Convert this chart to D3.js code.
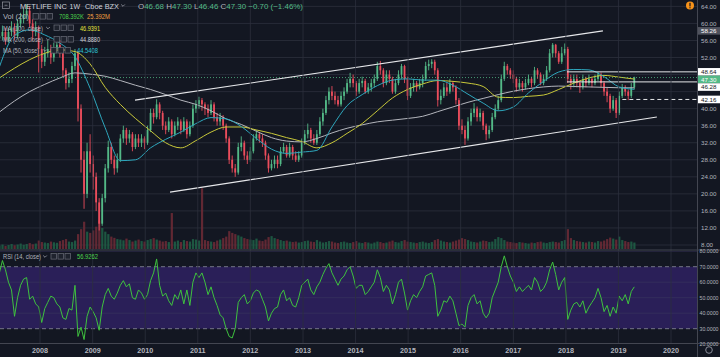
<!DOCTYPE html>
<html><head><meta charset="utf-8">
<script src="https://cdn.jsdelivr.net/npm/d3@7"></script>
<style>html,body{margin:0;padding:0;background:#131722;overflow:hidden}svg{display:block}</style>
</head><body><svg id="c" width="720" height="357"></svg>
<script>
// ---------- DATA (3-week candles) ----------
const firstOpen = 56.5;
const closes = [
57,58,56,58,59,57,60,61,62,63,
60,58,59,54,51,53,54,52,54,55,
53,49,46,47,50,53,40,28,20,30,
27,24,18,13,19,26,31,28,26,28,
33,35,33,34,31,33,32,33,32,35,
39,38,41,39,36,35,37,34,36,37,
35,37,34,36,40,41,42,41,40,39,
41,38,37,38,36,33,28,26,25,31,
32,29,28,30,33,34,33,32,29,26,
27,28,27,30,31,29,31,29,28,29,
32,34,35,33,32,34,37,39,42,44,
43,42,41,43,44,46,47,46,44,46,
46.5,44,45,46,47,50,49,46,48,47,
44,46,48,50,47,43,45,46,45,46,
47,50,50.5,51,49,42,43,45,44,46,
45,42,36,35,33,37,39,40,38,39,
36,34,35,38,40,42,47,50,49,48,
47,45,46,45,46,47,46,49,48,46,
47,49,53,55,53,51,53,54,47,46,
47,46,45,47,46,47,46,47,48,46,
44,43,40,42,39,43,45,44,43,45,
47.3];
const highs = [
58.5,59.5,59,59,60.5,60,61,62.5,63.5,64.5,
64,61,60.5,59.5,55,54.5,56,55,55.5,56.5,
56,54,49.5,48.5,51,54,53.5,41,30,32,
34,29,25,19,20,27,32.5,32,29,29.5,
34,36,35.5,35,34.5,34,34,34,33.5,36,
40,40,42.2,41.5,39.5,37,38,37.5,37,38,
37.5,38,37.5,37,41,42,42.8,42.5,41.5,41,
42,41.5,39,39,38.5,36.5,33.5,29,27,32,
33.5,32.5,30,31,34,35,34.5,34,32.5,29.5,
28,29,29,31,32,31.5,32,31.5,30,30,
33,35,36.5,35.5,34,35,38,40,43,45,
45.3,44,43,44,45,47,48.4,48,46.5,47,
47.5,47,46,47,48,51,51.2,49.5,49,49,
47.5,47,49,50.5,50.3,47.5,46,47,46.5,47,
48,51,51.5,51.6,51.5,49.5,44.5,46,46,47,
46.5,45.5,42.5,37.5,36,38,40,41.3,40.5,40,
39.5,36.5,36,39,41,43,48,51,50.5,49.5,
49,47.5,47,46.5,47,48,47.5,49.8,49.5,48.5,
48,50,54,55.4,55.2,53.5,54.5,55.3,54.5,48,
48,48,46.5,48,47.5,48,47.5,48,48.6,48.5,
46.5,45,43.5,43,42.5,44,45.8,45.5,44.5,46,
47.5];
const lows = [
55.5,56,55,55.5,57,56,56.5,59,60,61,
59,56,57,48.5,49.5,50,52,50.5,51,53,
52,47.5,44.5,45,46,49,37,25,16.5,19,
25,21,16,11.4,12.5,18,25,27,24.5,25,
27.5,32,31.5,32,30,30.5,31,31,30.5,31.5,
34.5,36.5,37.5,37.5,35,34,34.5,33,33.5,35,
34,34.5,33,33.5,35.5,39,40,39.5,38.5,38,
38.5,37,36,36,35,32,27,25,24,24.5,
30,28,27,27.5,29.5,32.5,32,31,28,25,
25.5,26,26,26.5,29.5,28.5,28.5,28,27.5,27.5,
28.5,31.5,33,32,31.5,31.5,33.5,36,38.5,41,
42,41,40.5,40.5,42,43.5,45,45,43,43.5,
45,43.5,43.5,44,45,46.5,48,45,45.5,46,
43.5,43.5,45.5,47,46,42,42.5,44,44,44.5,
45,46.5,49,49.5,48,40.5,41,42.5,43,43.5,
44,41,35,34,31.5,32.5,36,38,37,37,
35,32.6,33,34.5,37.5,39.5,41.5,46.5,48,47,
46,44,44.5,44,44.5,45.5,45,45.5,47,45.5,
45.5,46.5,48.5,52,52,50.5,50.5,52.5,46,44.5,
45,45,43.7,44.5,45,45.5,45,45.5,46.5,45,
43,41.5,39,39.5,37.8,38.5,42.5,43,42,42.5,
44.5];
const volumes = [
14,18,12,16,20,15,18,22,17,20,
24,19,22,34,28,26,24,30,27,25,
32,36,40,30,28,34,60,80,110,70,
65,75,90,115,85,70,60,50,45,40,
38,35,42,36,30,34,38,32,30,36,
40,44,38,34,30,32,28,145,30,34,
28,36,32,30,40,38,34,245,36,32,
30,28,34,38,44,50,72,65,60,55,
50,44,40,38,36,42,34,32,38,48,
52,44,40,36,32,34,30,28,30,26,
28,32,34,30,28,36,30,26,28,32,
30,26,24,28,30,26,24,28,32,26,
24,28,26,22,26,30,28,24,26,30,
34,28,26,32,36,30,28,26,24,28,
30,26,24,28,36,40,34,30,28,26,
30,34,38,44,40,36,30,28,26,30,
34,32,28,30,40,48,44,36,30,28,
26,24,28,26,24,22,26,24,28,30,
26,24,28,30,28,26,32,36,80,44,
36,32,30,28,26,30,28,26,32,30,
34,40,46,42,38,50,36,32,28,30,
26];
const rsiValues = [
66,74,68,60,55,38,50,58,62,63,
49,51,46,44,34,43,47,51,50,46,
44,37,36,43,42,58,25,31,23,38,
44,41,37,29,44,52,56,51,49,53,
58,61,57,59,50,49,55,53,49,52,
61,66,75,58,51,53,48,45,52,49,
55,46,55,45,60,66,63,66,60,52,
57,50,45,39,37,30,25,24,30,47,
50,52,46,48,53,55,54,49,44,35,
40,43,44,52,55,48,50,45,44,50,
58,60,62,55,52,57,60,65,69,72,
66,62,58,62,64,68,70,64,56,58,
58,52,54,57,60,68,63,54,58,55,
46,52,60,62,53,42,48,52,50,54,
57,64,65,66,58,38,42,48,47,51,
48,40,32,33,31,45,50,52,46,48,
40,37,40,50,55,60,70,77,70,64,
60,54,57,54,56,58,55,63,60,54,
56,60,68,73,65,55,60,63,36,42,
46,47,44,48,40,44,47,50,56,50,
41,45,38,44,40,51,48,52,46,54,
57];
// moving averages sampled every 5th candle
const maStep = 5;
const ma50 = [49.8,57.2,58.5,57.3,55.4,52.2,44.8,35.5,27.8,28,30.8,32.8,34.5,36.5,37.9,37.6,35.8,33,30.5,29.5,29.8,30.2,35.7,40.7,43.3,45.4,46.7,47,46.7,46.7,45.5,43.4,41.3,39.5,40.4,43.7,46.4,48.6,49.2,49.1,47.5,45.1,44.54];
const ma100 = [47.2,49.5,51.5,53,53.8,53.4,50.5,45,41,37.7,34.8,32,30.8,32.5,34.5,35.7,35.7,35,34.2,33.2,32.3,30.8,32,34.2,36.5,39.5,42.5,44.5,45.8,46.6,46.4,46,45.2,42.7,42.6,42.9,43.2,44.5,46,47.2,47.8,47.4,46.94];
const ma200 = [39.2,41.8,44,45.7,47.2,48.4,48.1,47.6,46.6,45.5,44.5,43.3,42,41,39.5,37.6,36.3,34.7,33.2,32.4,32.2,33,34.3,35.4,36.2,36.9,37.3,37.7,38.2,39.3,40.4,41.5,42.4,43.3,44.1,44.7,45.1,45.3,45.2,45.1,45,44.9,44.89];
// drawings
const channelLines = [
  {from:["2009-10-22",42.0], to:["2018-09-15",58.26]},
  {from:["2010-06-22",20.4], to:["2019-09-25",38.05]}
];
const levelLines = [
  {from:"2018-01-08", price:48.64, dash:null},
  {from:"2018-01-08", price:46.28, dash:null},
  {from:"2019-01-28", price:42.16, dash:"4,3"}
];
const yearTicks = [2008,2009,2010,2011,2012,2013,2014,2015,2016,2017,2018,2019,2020];
const priceGrid = [8,12,16,20,24,28,32,36,40,44,48,52,56,60,64];
const priceTickLabels = [8,12,16,20,24,28,32,36,40,52,56,60,64];
const rsiTicks = [20,30,40,50,60,70,80];
const lastPrice = 47.30;
const priceTags = [
  {v:58.26, bg:"#50535e", fg:"#ffffff"},
  {v:48.64, bg:"#ffffff", fg:"#131722"},
  {v:47.30, bg:"#53b987", fg:"#ffffff"},
  {v:46.28, bg:"#ffffff", fg:"#131722"},
  {v:42.16, bg:"#ffffff", fg:"#131722"}
];

// ---------- CHART ----------
const svg = d3.select("#c");
const FONT = "Liberation Sans, Arial, sans-serif";
const AX = 697, MAIN_B = 249, RSI_T = 251, RSI_B = 343;
const up = "#53b987", dn = "#eb4d5c";
const n = closes.length;
const lastDate = new Date(2019,3,21);
const dates = d3.range(n).map(i => d3.timeWeek.offset(lastDate, -3*(n-1-i)));
const opens = closes.map((c,i) => i===0 ? firstOpen : closes[i-1]);
const parse = d3.timeParse("%Y-%m-%d");

const x = d3.scaleTime().domain([new Date(2008,0,1), new Date(2020,0,1)]).range([40,671]);
const y = d3.scaleLinear().domain([8,64]).range([245,6.4]);
const yv = d3.scaleLinear().domain([0,250]).range([MAIN_B,187]);
const yr = d3.scaleLinear().domain([20,80]).range([344.2,251.2]);

svg.append("rect").attr("width",720).attr("height",357).attr("fill","#131722");
const defs = svg.append("defs");
defs.append("clipPath").attr("id","cm").append("rect").attr("x",0).attr("y",0).attr("width",AX).attr("height",MAIN_B);
defs.append("clipPath").attr("id","cr").append("rect").attr("x",0).attr("y",RSI_T).attr("width",AX).attr("height",RSI_B-RSI_T);

// RSI band
const rsiG = svg.append("g").attr("clip-path","url(#cr)");
rsiG.append("rect").attr("x",0).attr("width",AX).attr("y",yr(70)).attr("height",yr(30)-yr(70)).attr("fill","#2a1f58");
rsiG.selectAll("line.rg").data(rsiTicks.filter(v=>v!==70&&v!==30)).join("line")
  .attr("x1",0).attr("x2",AX).attr("y1",d=>yr(d)).attr("y2",d=>yr(d)).attr("stroke","#3a3560").attr("stroke-width",0.6);
rsiG.selectAll("line.rd").data([70,30]).join("line")
  .attr("x1",0).attr("x2",AX).attr("y1",d=>yr(d)).attr("y2",d=>yr(d)).attr("stroke","#8a8d99").attr("stroke-dasharray","4,3").attr("stroke-width",0.8);

// grids
const mainG = svg.append("g").attr("clip-path","url(#cm)");
mainG.selectAll("line.hg").data(priceGrid).join("line")
  .attr("x1",0).attr("x2",AX).attr("y1",d=>y(d)).attr("y2",d=>y(d)).attr("stroke","#2c303c").attr("stroke-width",0.8);
svg.append("g").selectAll("line").data(yearTicks).join("line")
  .attr("x1",d=>x(new Date(d,0,1))).attr("x2",d=>x(new Date(d,0,1))).attr("y1",0).attr("y2",RSI_B)
  .attr("stroke","#2c303c").attr("stroke-width",0.8);

// volume
mainG.append("g").selectAll("rect").data(volumes).join("rect")
  .attr("x",(d,i)=>x(dates[i])-1).attr("width",2.2)
  .attr("y",d=>yv(d)).attr("height",d=>MAIN_B-yv(d))
  .attr("fill",(d,i)=> closes[i]>=opens[i] ? "#1f5d45" : "#6a2a35").attr("opacity",0.9);

// candles
const cg = mainG.append("g");
cg.selectAll("line").data(closes).join("line")
  .attr("x1",(d,i)=>x(dates[i])).attr("x2",(d,i)=>x(dates[i]))
  .attr("y1",(d,i)=>y(highs[i])).attr("y2",(d,i)=>y(lows[i]))
  .attr("stroke",(d,i)=> d>=opens[i]?up:dn).attr("stroke-width",0.9);
cg.selectAll("rect").data(closes).join("rect")
  .attr("x",(d,i)=>x(dates[i])-0.9).attr("width",1.8)
  .attr("y",(d,i)=>y(Math.max(d,opens[i])))
  .attr("height",(d,i)=>Math.max(0.8, Math.abs(y(d)-y(opens[i]))))
  .attr("fill",(d,i)=> d>=opens[i]?up:dn);

// moving averages
const maLine = d3.line().x((d,i)=>x(dates[Math.min(i*maStep,n-1)])).y(d=>y(d)).curve(d3.curveMonotoneX);
[[ma200,"#b4b6bd"],[ma100,"#c9c93a"],[ma50,"#2ea7bd"]].forEach(([arr,col])=>{
  mainG.append("path").attr("d",maLine(arr)).attr("fill","none").attr("stroke",col).attr("stroke-width",1);
});

// current price dotted line
mainG.append("line").attr("x1",0).attr("x2",AX).attr("y1",y(lastPrice)).attr("y2",y(lastPrice))
  .attr("stroke",up).attr("stroke-dasharray","1,2").attr("stroke-width",0.8);

// drawings
channelLines.forEach(l=>{
  mainG.append("line").attr("x1",x(parse(l.from[0]))).attr("y1",y(l.from[1]))
    .attr("x2",x(parse(l.to[0]))).attr("y2",y(l.to[1])).attr("stroke","#e6e7ea").attr("stroke-width",1.1);
});
levelLines.forEach(l=>{
  mainG.append("line").attr("x1",x(parse(l.from))).attr("x2",AX).attr("y1",y(l.price)).attr("y2",y(l.price))
    .attr("stroke","#e6e7ea").attr("stroke-width",1).attr("stroke-dasharray",l.dash);
});

// RSI line
const rsiLine = d3.line().x((d,i)=>x(dates[i])).y(d=>yr(d));
rsiG.append("path").attr("d",rsiLine(rsiValues)).attr("fill","none").attr("stroke","#3ec23e").attr("stroke-width",1);

// separators & axes
svg.append("line").attr("x1",0).attr("x2",720).attr("y1",250).attr("y2",250).attr("stroke","#434651").attr("stroke-width",1.2);
svg.append("line").attr("x1",0).attr("x2",720).attr("y1",RSI_B+0.5).attr("y2",RSI_B+0.5).attr("stroke","#434651");
svg.append("line").attr("x1",AX+0.5).attr("x2",AX+0.5).attr("y1",0).attr("y2",357).attr("stroke","#434651");

const axT = svg.append("g").attr("font-family",FONT).attr("fill","#b2b5be");
axT.selectAll("text.p").data(priceTickLabels).join("text").attr("font-size",6.2)
  .attr("x",701).attr("y",d=>y(d)+2.2).text(d=>d.toFixed(2));
axT.selectAll("text.r").data(rsiTicks).join("text").attr("font-size",5.6)
  .attr("x",699.5).attr("y",d=>yr(d)+2).attr("textLength",19).attr("lengthAdjust","spacingAndGlyphs").text(d=>d.toFixed(4));
svg.append("g").attr("font-family",FONT).attr("font-size",7.2).attr("font-weight","bold").attr("fill","#b2b5be")
  .selectAll("text").data(yearTicks).join("text")
  .attr("x",d=>x(new Date(d,0,1))).attr("y",353).attr("text-anchor","middle").text(d=>d);

// price tags with simple collision avoidance
let prevY = -99;
const tagG = svg.append("g").attr("font-family",FONT).attr("font-size",6.2);
priceTags.slice().sort((a,b)=>b.v-a.v).forEach(t=>{
  let ty = Math.max(y(t.v), prevY + 7.6); prevY = ty;
  tagG.append("rect").attr("x",AX+1).attr("y",ty-3.8).attr("width",22).attr("height",7.6).attr("fill",t.bg);
  tagG.append("text").attr("x",701).attr("y",ty+2.2).attr("fill",t.fg).text(t.v.toFixed(2));
});

// legend
const lg = svg.append("g").attr("font-family",FONT);
function boxes(x0, yy){
  for(let k=0;k<3;k++){
    lg.append("rect").attr("x",x0+k*7).attr("y",yy-5.5).attr("width",5.6).attr("height",5.6)
      .attr("fill","#1e222d").attr("stroke","#6a6d78").attr("stroke-width",0.7);
  }
}
function chevron(cx, cy){
  lg.append("path").attr("d",`M${cx-1.8},${cy-1}L${cx},${cy+0.8}L${cx+1.8},${cy-1}`)
    .attr("fill","none").attr("stroke","#b2b5be").attr("stroke-width",0.7);
}
function fitText(s, xx, yy, len, size, col){
  return lg.append("text").attr("x",xx).attr("y",yy).attr("font-size",size).attr("fill",col)
    .attr("textLength",len).attr("lengthAdjust","spacingAndGlyphs").text(s);
}
lg.append("rect").attr("x",2.5).attr("y",2).attr("width",7).attr("height",6.5).attr("fill","none").attr("stroke","#9598a1").attr("stroke-width",0.7);
lg.append("line").attr("x1",4.5).attr("x2",7.5).attr("y1",5.25).attr("y2",5.25).attr("stroke","#9598a1").attr("stroke-width",0.7);
fitText("METLIFE INC", 20, 8.5, 47, 7.8, "#d1d4dc");
fitText("1W", 69.5, 8.5, 10.5, 7.8, "#d1d4dc");
fitText("Cboe BZX", 85, 8.5, 34, 7.8, "#d1d4dc");
chevron(123, 5.5);
const o = lg.append("text").attr("x",138).attr("y",8.5).attr("font-size",7.8)
  .attr("textLength",165).attr("lengthAdjust","spacingAndGlyphs");
[["O","#b2b5be"],["46.68 ",up],["H","#b2b5be"],["47.30 ",up],["L","#b2b5be"],["46.46 ",up],["C","#b2b5be"],["47.30 ",up],["−0.70 (−1.46%)",up]]
  .forEach(([s,c])=>o.append("tspan").attr("fill",c).text(s));

const rows = [
  {label:"Vol (20)", len:26, arrow:null, bx:33, y:19, vals:[["708.392K","#4cd44c",59,25],["25.392M","#f0a040",87,23]]},
  {label:"MA (100, close)", len:40, arrow:48, bx:54, y:30.5, vals:[["46.9391","#e6e63c",80,20]]},
  {label:"MA (200, close)", len:40, arrow:48, bx:54, y:42, vals:[["44.8880","#d1d4dc",80,20]]},
  {label:"MA (50, close)", len:36, arrow:45, bx:51, y:53, vals:[["44.5408","#2ec4d6",77,21]]}
];
rows.forEach(r=>{
  fitText(r.label, 3, r.y, r.len, 7, "#b2b5be");
  if(r.arrow) chevron(r.arrow, r.y-2.5);
  boxes(r.bx, r.y);
  r.vals.forEach(([s,c,xx,len])=>fitText(s, xx, r.y, len, 7, c));
});
fitText("RSI (14, close)", 3, 259, 38, 7, "#b2b5be");
chevron(45, 256.5);
boxes(51, 259);
fitText("56.9262", 77, 259, 21, 7, "#4cd44c");

// icons
svg.append("circle").attr("cx",690).attr("cy",5.5).attr("r",4).attr("fill","#f7931a");
svg.append("rect").attr("x",689.4).attr("y",2.8).attr("width",1.2).attr("height",3.6).attr("fill","#131722");
svg.append("rect").attr("x",689.4).attr("y",7.2).attr("width",1.2).attr("height",1.1).attr("fill","#131722");
svg.append("circle").attr("cx",709).attr("cy",350).attr("r",3.3).attr("fill","none").attr("stroke","#8a8d99").attr("stroke-width",1);
</script></body></html>
